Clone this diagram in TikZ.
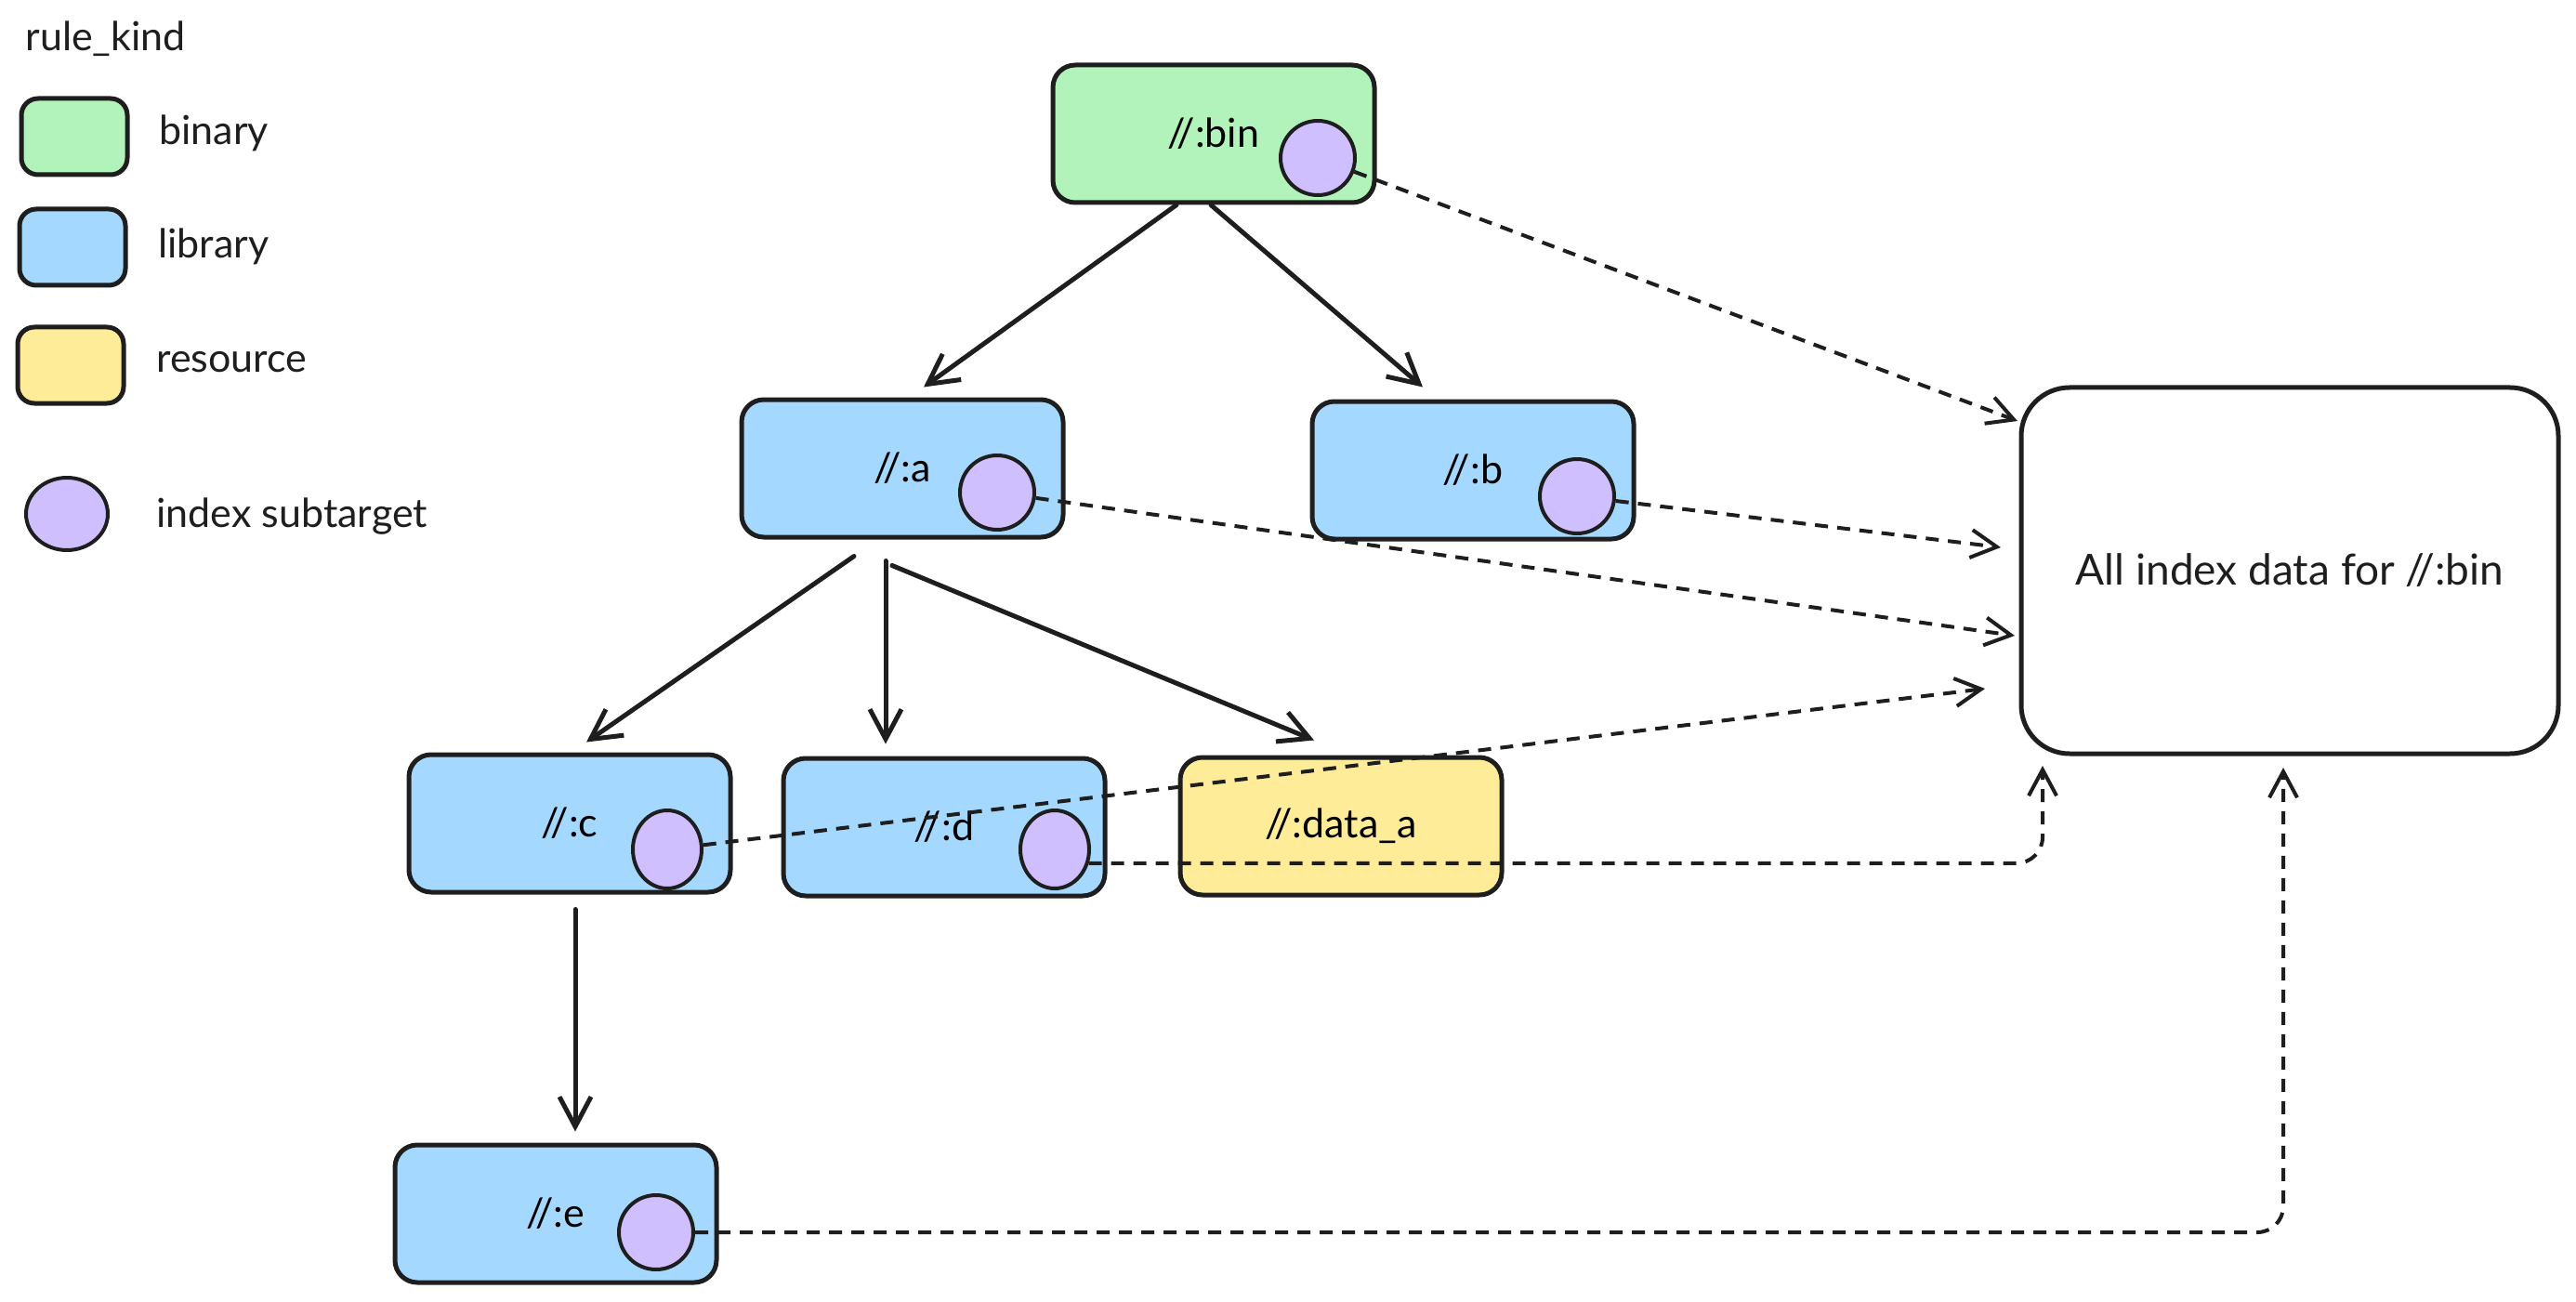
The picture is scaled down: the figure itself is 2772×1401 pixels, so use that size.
\documentclass[tikz,border=0pt]{standalone}
\usepackage{fontspec}
\setmainfont{Lato}
\usetikzlibrary{arrows.meta,shapes.geometric}
\definecolor{ink}{HTML}{1E1E1E}
\definecolor{gfill}{HTML}{B2F2BB}
\definecolor{bfill}{HTML}{A5D8FF}
\definecolor{yfill}{HTML}{FFEC99}
\definecolor{pfill}{HTML}{D0BFFF}
\tikzset{
  rulebox/.style={draw=ink, line width=2.5pt, rounded corners=12pt, minimum width=173pt, minimum height=74pt, inner sep=0pt},
  legbox/.style={draw=ink, line width=2.5pt, rounded corners=9pt, minimum width=57pt, minimum height=41pt, inner sep=0pt},
  subt/.style={draw=ink, fill=pfill, line width=2pt, ellipse, inner sep=0pt, minimum width=40pt, minimum height=40pt},
  subtnarrow/.style={subt, minimum width=37pt, minimum height=42pt},
  lbl/.style={anchor=west, inner sep=0pt, text=ink},
  solidarr/.style={draw=ink, line width=2.5pt, line cap=round, -{Straight Barb[length=16pt,width=17pt,line width=2.5pt]}},
  dasharr/.style={draw=ink, line width=2pt, dash pattern=on 7pt off 5pt, -{Straight Barb[length=14pt,width=15pt,line width=2pt,sep=0pt]}},
}
\begin{document}
\begin{tikzpicture}[x=0.5pt,y=-0.5pt, font=\fontsize{21.5}{26}\selectfont]
\useasboundingbox (0,0) rectangle (2772,1401);

% legend
\node[lbl] (lt) at (27,42) {rule\_kind};
\node[legbox, fill=gfill] (lg) at (80,147) {};
\node[lbl] (lgt) at (171,143) {binary};
\node[legbox, fill=bfill] (lb) at (78,266) {};
\node[lbl] (lbt) at (170,265) {library};
\node[legbox, fill=yfill] (ly) at (76,393) {};
\node[lbl] (lyt) at (168,390) {resource};
\node[subt, minimum width=44pt, minimum height=39pt] (lc) at (72,553) {};
\node[lbl] (lct) at (168,556) {index subtarget};

% rule nodes
\node[rulebox, fill=gfill] (bin) at (1306,144) {//:bin};
\node[rulebox, fill=bfill] (a) at (971,504) {//:a};
\node[rulebox, fill=bfill] (b) at (1585,506) {//:b};
\node[rulebox, fill=bfill] (c) at (613,886) {//:c};
\node[rulebox, fill=bfill] (d) at (1016,890) {//:d};
\node[rulebox, fill=yfill] (data) at (1443,889) {//:data\_a};
\node[rulebox, fill=bfill] (e) at (598,1306) {//:e};
\node[draw=ink, line width=2.5pt, rounded corners=26pt, minimum width=289pt, minimum height=197pt, inner sep=0pt, text=ink, font=\fontsize{23}{28}\selectfont] (all) at (2464,614) {All index data for //:bin};

% subtarget circles
\node[subt] (binc) at (1418,170) {};
\node[subt] (ac) at (1073,530) {};
\node[subt] (bc) at (1697,534) {};
\node[subtnarrow] (cc) at (718,914) {};
\node[subtnarrow] (dc) at (1135,914) {};
\node[subt] (ec) at (706,1326) {};

% target points on the index box
\coordinate (t1) at (2171,453);
\coordinate (t2) at (2153,589);
\coordinate (t3) at (2168,684);
\coordinate (t4) at (2136,741);
\coordinate (t5) at (2198,824);
\coordinate (t6) at (2457,826);

% solid dependency arrows
\draw[solidarr] ([xshift=-20pt]bin.south) -- ([xshift=11.5pt,yshift=5.5pt]a.north);
\draw[solidarr] ([xshift=-1.5pt]bin.south) -- ([xshift=-27pt,yshift=6.5pt]b.north);
\draw[solidarr] ([xshift=-26pt,yshift=-9pt]a.south) -- ([xshift=9pt,yshift=5.5pt]c.north);
\draw[solidarr] ([xshift=-9pt,yshift=-11.5pt]a.south) -- ([xshift=-31.5pt,yshift=6.5pt]d.north);
\draw[solidarr] ([xshift=-5.5pt,yshift=-14pt]a.south) -- ([xshift=-14.5pt,yshift=8pt]data.north);
\draw[solidarr] ([xshift=3pt,yshift=-8pt]c.south) -- ([xshift=10.5pt,yshift=6pt]e.north);

% dashed index arrows
\draw[dasharr] (binc) -- (t1);
\draw[dasharr] (bc) -- (t2);
\draw[dasharr] (ac) -- (t3);
\draw[dasharr] (cc) -- (t4);
\draw[dasharr, rounded corners=14pt] (dc.-22) -| (t5);
\draw[dasharr, rounded corners=14pt] (ec.east) -| (t6);
\end{tikzpicture}
\end{document}
